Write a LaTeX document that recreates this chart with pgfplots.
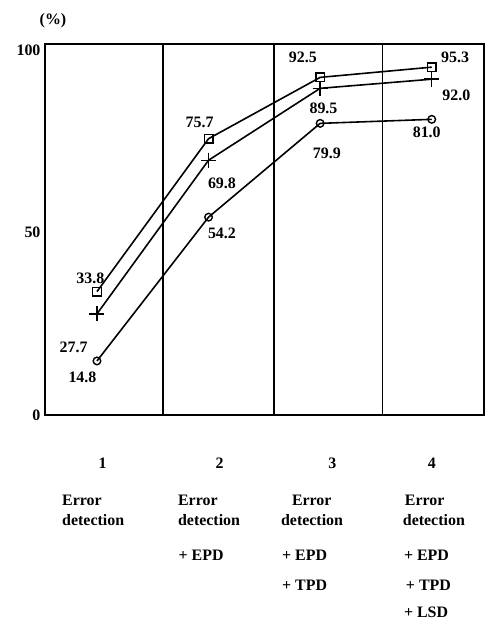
\documentclass[border=0pt]{standalone}
\usepackage{fontspec}
\setmainfont{Liberation Serif}
\usepackage{pgfplots}
\pgfplotsset{compat=1.18}
\newcommand\lf{\fontsize{16}{18}\selectfont\bfseries}
\begin{document}
\begin{tikzpicture}
\begin{axis}[
  width=439bp, height=371bp, scale only axis,
  xmin=0.534, xmax=4.466, ymin=0, ymax=101.6,
  axis line style={line width=1.6pt},
  xtick=\empty, ytick={0,50,100},
  major tick length=0pt,
  /pgf/number format/assume math mode=true,
  yticklabel style={font=\lf, xshift=-1pt},
  extra x ticks={1.59,2.585,3.56},
  extra x tick labels={},
  extra x tick style={grid=major, major grid style={black, line width=1.6pt}, major tick length=0pt},
  clip=false,
]
\addplot[black, line width=1.6pt, mark=square, mark size=4.3bp, mark options={solid, fill=white, line width=1.4pt}]
  coordinates {(1,33.8)(2,75.7)(3,92.5)(4,95.3)};
\addplot[black, line width=1.6pt, mark=+, mark size=7.5bp, mark options={solid, line width=1.4pt}]
  coordinates {(1,27.7)(2,69.8)(3,89.5)(4,92.0)};
\addplot[black, line width=1.6pt, mark=o, mark size=3.8bp, mark options={solid, fill=white, line width=1.4pt}]
  coordinates {(1,14.8)(2,54.2)(3,79.9)(4,81.0)};

\node[font=\lf] at (axis cs:0.94,37.5) {33.8};
\node[font=\lf] at (axis cs:0.79,18.4) {27.7};
\node[font=\lf] at (axis cs:0.87,10.4) {14.8};
\node[font=\lf] at (axis cs:1.92,80.3) {75.7};
\node[font=\lf] at (axis cs:2.12,63.6) {69.8};
\node[font=\lf] at (axis cs:2.12,49.9) {54.2};
\node[font=\lf] at (axis cs:2.845,98.1) {92.5};
\node[font=\lf] at (axis cs:3.03,84.1) {89.5};
\node[font=\lf] at (axis cs:3.06,71.8) {79.9};
\node[font=\lf] at (axis cs:4.21,98.1) {95.3};
\node[font=\lf] at (axis cs:4.22,87.7) {92.0};
\node[font=\lf] at (axis cs:3.955,77.5) {81.0};

\node[font=\lf] at (axis cs:0.606,107.9) {(\%)};

\node[font=\lf] at (axis cs:1.05,-13.2) {1};
\node[font=\lf] at (axis cs:2.10,-13.2) {2};
\node[font=\lf] at (axis cs:3.11,-13.2) {3};
\node[font=\lf] at (axis cs:4.00,-13.2) {4};

\node[font=\lf, anchor=west, inner sep=0pt] at (axis cs:0.687,-23.3) {Error};
\node[font=\lf, anchor=west, inner sep=0pt] at (axis cs:0.687,-28.8) {detection};

\node[font=\lf, anchor=west, inner sep=0pt] at (axis cs:1.725,-23.3) {Error};
\node[font=\lf, anchor=west, inner sep=0pt] at (axis cs:1.725,-28.8) {detection};
\node[font=\lf, anchor=west, inner sep=0pt] at (axis cs:1.73,-38.4) {+ EPD};

\node[font=\lf, anchor=west, inner sep=0pt] at (axis cs:2.746,-23.3) {Error};
\node[font=\lf, anchor=west, inner sep=0pt] at (axis cs:2.648,-28.8) {detection};
\node[font=\lf, anchor=west, inner sep=0pt] at (axis cs:2.657,-38.4) {+ EPD};
\node[font=\lf, anchor=west, inner sep=0pt] at (axis cs:2.657,-46.6) {+ TPD};

\node[font=\lf, anchor=west, inner sep=0pt] at (axis cs:3.758,-23.3) {Error};
\node[font=\lf, anchor=west, inner sep=0pt] at (axis cs:3.74,-28.8) {detection};
\node[font=\lf, anchor=west, inner sep=0pt] at (axis cs:3.75,-38.4) {+ EPD};
\node[font=\lf, anchor=west, inner sep=0pt] at (axis cs:3.767,-46.6) {+ TPD};
\node[font=\lf, anchor=west, inner sep=0pt] at (axis cs:3.75,-54.2) {+ LSD};

\coordinate (BL) at (axis cs:0.131,-57.0);
\coordinate (TR) at (axis cs:4.474,113.7);
\end{axis}
\pgfresetboundingbox
\useasboundingbox (BL) rectangle (TR);
\end{tikzpicture}
\end{document}
